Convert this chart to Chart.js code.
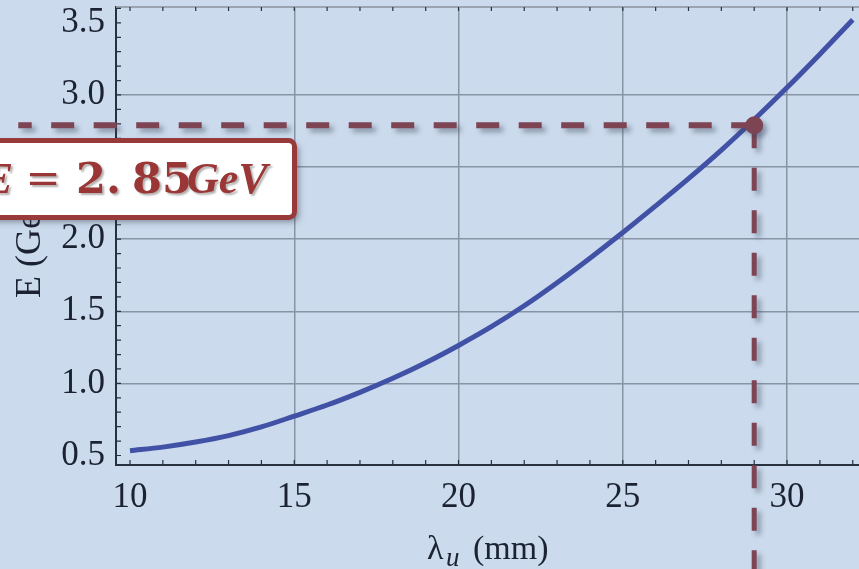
<!DOCTYPE html>
<html>
<head>
<meta charset="utf-8">
<script src="https://cdn.jsdelivr.net/npm/chart.js@4"></script>
<style>
html, body { margin: 0; padding: 0; background: #cbdaec; }
#wrap { width: 859px; height: 569px; }
</style>
</head>
<body>
<div id="wrap"><canvas id="myChart" width="859" height="569"></canvas></div>
<script>
// undulator period (mm) vs electron energy (GeV)
const lambdaMm = [10, 11, 12, 13, 14, 15, 16, 17, 18, 19, 20, 21, 22, 23, 24, 25, 26, 27, 28, 29, 30, 31, 32];
const energyGeV = [0.533, 0.558, 0.593, 0.638, 0.698, 0.773, 0.850, 0.938, 1.035, 1.143, 1.263, 1.393, 1.538, 1.698, 1.868, 2.046, 2.231, 2.420, 2.618, 2.830, 3.052, 3.283, 3.521];

// marked working point and where its guide lines run to
const markLambda = 29;
const markEnergy = 2.79;
const guideLeftLambda = 6.6;
const guideBottomEnergy = -0.4;

const xTicks = [10, 15, 20, 25, 30];
const yTicks = [0.5, 1.0, 1.5, 2.0, 2.5, 3.0, 3.5];
const xRange = [9.574, 32.19];
const yRange = [0.434, 3.61];

const maroon = '#7d4454';
const gridCol = '#8794a4';
const axisCol = '#27313f';

const shadowPlugin = {
    id: 'shadow',
    beforeDatasetDraw(chart, args) {
        if (chart.data.datasets[args.index].shadow) {
            const c = chart.ctx;
            c.save();
            c.shadowColor = 'rgba(60,70,95,0.45)';
            c.shadowBlur = 5;
            c.shadowOffsetX = 4;
            c.shadowOffsetY = 4;
        }
    },
    afterDatasetDraw(chart, args) {
        if (chart.data.datasets[args.index].shadow) chart.ctx.restore();
    }
};

const framePlugin = {
    id: 'frame',
    beforeDraw(chart) {
        const c = chart.ctx;
        c.save();
        c.fillStyle = '#cbdaec';
        c.fillRect(0, 0, chart.width, chart.height);
        c.restore();
    },
    beforeDatasetsDraw(chart) {
        const c = chart.ctx, a = chart.chartArea;
        const xs = chart.scales.x, ys = chart.scales.y;
        c.save();
        // top frame
        c.strokeStyle = '#9aa4b1';
        c.lineWidth = 2;
        c.beginPath();
        c.moveTo(a.left, a.top);
        c.lineTo(a.right, a.top);
        c.stroke();
        // minor ticks
        c.strokeStyle = axisCol;
        c.lineWidth = 1.2;
        c.beginPath();
        for (let v = 10; v <= 32; v++) {
            const px = xs.getPixelForValue(v);
            c.moveTo(px, a.bottom);
            c.lineTo(px, a.bottom - 5);
            c.moveTo(px, a.top);
            c.lineTo(px, a.top + 4);
        }
        for (let k = 5; k <= 36; k++) {
            const py = ys.getPixelForValue(k / 10);
            c.moveTo(a.left, py);
            c.lineTo(a.left + 5, py);
        }
        c.stroke();
        c.restore();
    },
    afterDraw(chart) {
        const c = chart.ctx;
        c.save();
        c.fillStyle = '#1b2332';
        // x title: lambda_u (mm)
        c.textBaseline = 'alphabetic';
        c.textAlign = 'left';
        c.font = '34px "Liberation Serif"';
        c.fillText('λ', 427, 559);
        c.font = 'italic 27px "Liberation Serif"';
        c.fillText('u', 446, 566);
        c.font = '34px "Liberation Serif"';
        c.fillText('(mm)', 473, 559);
        // y title
        c.save();
        c.translate(40, 298);
        c.rotate(-Math.PI / 2);
        c.font = '36px "Liberation Serif"';
        c.fillText('E (GeV)', 0, 0);
        c.restore();

        // annotation box
        c.save();
        c.shadowColor = 'rgba(40,45,65,0.5)';
        c.shadowBlur = 6;
        c.shadowOffsetX = 4;
        c.shadowOffsetY = 4;
        c.beginPath();
        c.roundRect(-20, 140.5, 314.5, 77, 6);
        c.fillStyle = '#ffffff';
        c.fill();
        c.shadowColor = 'rgba(0,0,0,0)';
        c.lineWidth = 5;
        c.strokeStyle = '#993a3a';
        c.stroke();
        c.restore();

        c.save();
        c.fillStyle = '#9a3636';
        c.shadowColor = 'rgba(40,30,30,0.35)';
        c.shadowBlur = 2;
        c.shadowOffsetX = 2;
        c.shadowOffsetY = 2;
        c.textBaseline = 'alphabetic';
        c.textAlign = 'right';
        c.font = 'bold italic 44px "Liberation Serif"';
        c.fillText('E', 13, 193);
        c.textAlign = 'center';
        c.font = '42px "DejaVu Serif"';
        c.fillText('=', 43, 193);
        c.textAlign = 'left';
        c.font = 'bold 43px "DejaVu Serif"';
        c.fillText('2.', 76, 193);
        c.fillText('85', 132, 193);
        c.font = 'bold italic 44px "Liberation Serif"';
        c.fillText('GeV', 187, 193);
        c.restore();
        c.restore();
    }
};

const noPad = s => {
    s.paddingTop = 0;
    s.paddingBottom = 0;
    s.paddingLeft = 0;
    s.paddingRight = 0;
};

const curve = lambdaMm.map((l, i) => ({x: l, y: energyGeV[i]}));

new Chart('myChart', {
    type: 'line',
    data: {
        datasets: [{
            data: [{x: markLambda, y: markEnergy}],
            showLine: false,
            pointRadius: 9,
            pointBackgroundColor: maroon,
            pointBorderWidth: 0,
            clip: false,
            shadow: true,
            order: 1
        }, {
            data: [{x: markLambda, y: markEnergy}, {x: guideLeftLambda, y: markEnergy}],
            borderColor: maroon,
            borderWidth: 6,
            borderDash: [23, 19.5],
            pointRadius: 0,
            clip: false,
            shadow: true,
            order: 2
        }, {
            data: [{x: markLambda, y: markEnergy}, {x: markLambda, y: guideBottomEnergy}],
            borderColor: maroon,
            borderWidth: 5,
            borderDash: [23, 19.5],
            pointRadius: 0,
            clip: false,
            shadow: true,
            order: 2
        }, {
            data: curve,
            borderColor: '#4152a6',
            borderWidth: 5,
            pointRadius: 0,
            cubicInterpolationMode: 'monotone',
            order: 3
        }]
    },
    options: {
        responsive: false,
        animation: false,
        events: [],
        layout: {autoPadding: false, padding: {top: 7, right: 0, left: 0, bottom: 0}},
        plugins: {legend: {display: false}, tooltip: {enabled: false}},
        scales: {
            x: {
                type: 'linear',
                min: xRange[0],
                max: xRange[1],
                afterBuildTicks: s => { s.ticks = xTicks.map(v => ({value: v})); },
                afterFit: s => { s.height = 104; noPad(s); },
                grid: {
                    drawTicks: false,
                    lineWidth: 1.5,
                    color: ctx => (ctx.tick && ctx.tick.value === xTicks[0]) ? 'rgba(0,0,0,0)' : gridCol
                },
                border: {color: axisCol, width: 2},
                ticks: {
                    font: {family: 'Liberation Serif', size: 35},
                    color: '#1b2332',
                    padding: 12,
                    maxRotation: 0,
                    callback: v => v
                }
            },
            y: {
                type: 'linear',
                min: yRange[0],
                max: yRange[1],
                afterBuildTicks: s => { s.ticks = yTicks.map(v => ({value: v})); },
                afterFit: s => { s.width = 116; noPad(s); },
                grid: {
                    drawTicks: false,
                    lineWidth: 1.5,
                    color: ctx => (ctx.tick && (ctx.tick.value === 0.5 || ctx.tick.value === 3.5)) ? 'rgba(0,0,0,0)' : gridCol
                },
                border: {color: axisCol, width: 2},
                ticks: {
                    font: {family: 'Liberation Serif', size: 35},
                    color: '#1b2332',
                    padding: 11,
                    callback: v => v.toFixed(1)
                }
            }
        }
    },
    plugins: [shadowPlugin, framePlugin]
});
</script>
</body>
</html>
